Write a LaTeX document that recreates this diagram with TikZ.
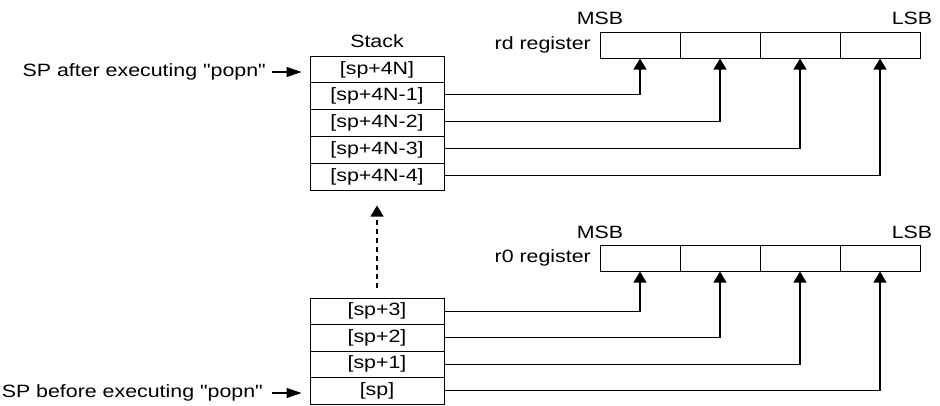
\documentclass[tikz,border=0pt]{standalone}
\usepackage{fontspec}
\setmainfont{Liberation Sans}[FakeStretch=1.2,Ligatures=TeXOff]
\usetikzlibrary{arrows.meta}
\begin{document}
\begin{tikzpicture}[x=1pt,y=-1pt,
  every node/.style={font=\fontsize{17.8}{20}\selectfont},
  cellbox/.style={draw,line width=1pt,minimum width=134pt,minimum height=26.8pt,inner sep=0pt},
  cellboxb/.style={cellbox,minimum height=26.5pt},
  regbox/.style={draw,line width=1pt,minimum width=80pt,minimum height=26pt,inner sep=0pt},
  link/.style={line width=1.1pt,-{Triangle[length=11pt,width=13pt]}},
  sparr/.style={line width=1.1pt,-{Triangle[length=15pt,width=10pt]}},
  dasharr/.style={line width=1.1pt,dash pattern=on 5pt off 4pt,-{Triangle[length=11pt,width=13pt]}},
  lbl/.style={inner sep=0pt}
]
\useasboundingbox (0,0) rectangle (940,405);

% top stack
\node[lbl] (stk) at (377,41.5) {Stack};
\node[cellbox] (s0) at (377,69.4) {[sp+4N]};
\node[cellbox] (s1) at (377,96.2) {[sp+4N-1]};
\node[cellbox] (s2) at (377,123.0) {[sp+4N-2]};
\node[cellbox] (s3) at (377,149.8) {[sp+4N-3]};
\node[cellbox] (s4) at (377,176.6) {[sp+4N-4]};

% bottom stack
\node[cellboxb] (b3) at (377,311.25) {[sp+3]};
\node[cellboxb] (b2) at (377,337.75) {[sp+2]};
\node[cellboxb] (b1) at (377,364.25) {[sp+1]};
\node[cellboxb] (b0) at (377,390.75) {[sp]};

% rd register
\node[regbox] (r1) at (640,45) {};
\node[regbox] (r2) at (720,45) {};
\node[regbox] (r3) at (800,45) {};
\node[regbox] (r4) at (880,45) {};
\node[lbl,anchor=east] (rdl) at (591,45) {rd register};
\node[lbl] (msb1) at (600,18) {MSB};
\node[lbl] (lsb1) at (912,18) {LSB};

% r0 register
\node[regbox] (q1) at (640,258) {};
\node[regbox] (q2) at (720,258) {};
\node[regbox] (q3) at (800,258) {};
\node[regbox] (q4) at (880,258) {};
\node[lbl,anchor=east] (r0l) at (591,258) {r0 register};
\node[lbl] (msb2) at (600,232.5) {MSB};
\node[lbl] (lsb2) at (912,232.5) {LSB};

% SP labels
\node[lbl,anchor=east] (spa) at (266,72) {SP after executing "popn"};
\node[lbl,anchor=east] (spb) at (263,393) {SP before executing "popn"};
\draw[sparr] ([xshift=6pt]spa.east) -- ([xshift=-8pt]spa.east -| s0.west);
\draw[sparr] ([xshift=9pt]spb.east) -- ([xshift=-8pt]spb.east -| b0.west);

% connectors top
\draw[link] ([yshift=1.5pt]s1.east) -| (r1.south);
\draw[link] ([yshift=1.5pt]s2.east) -| (r2.south);
\draw[link] ([yshift=1.5pt]s3.east) -| (r3.south);
\draw[link] ([yshift=1.5pt]s4.east) -| (r4.south);

% connectors bottom
\draw[link] (b3.east) -| (q1.south);
\draw[link] (b2.east) -| (q2.south);
\draw[link] (b1.east) -| (q3.south);
\draw[link] (b0.east) -| (q4.south);

% dashed arrow
\draw[dasharr] ([yshift=10pt]b3.north) -- ([yshift=-15pt]s4.south);
\end{tikzpicture}
\end{document}
